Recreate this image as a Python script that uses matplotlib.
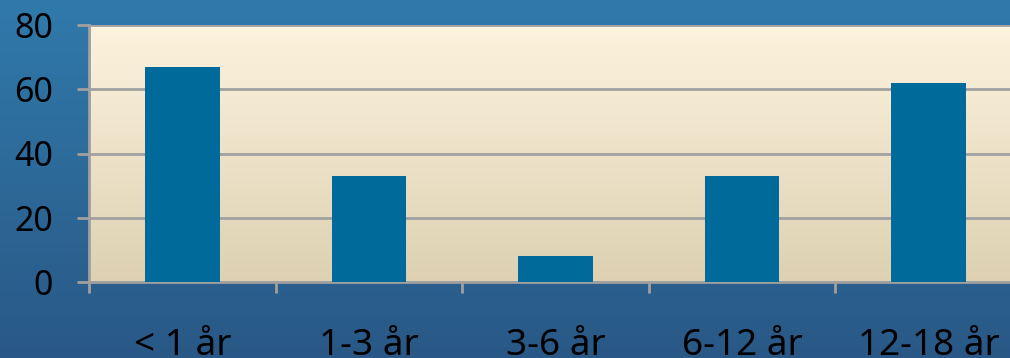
import numpy as np
import matplotlib.pyplot as plt

categories = ["< 1 år", "1-3 år", "3-6 år", "6-12 år", "12-18 år"]
values = [67, 33, 8, 33, 62]
yticks = [0, 20, 40, 60, 80]

plt.rcParams['font.family'] = ['Noto Sans', 'DejaVu Sans']

fig = plt.figure(figsize=(10.1, 3.58), dpi=100)

# blue gradient behind everything
bg = fig.add_axes([0, 0, 1, 1], zorder=-10)
top_c = np.array([48, 122, 171]) / 255
bot_c = np.array([41, 88, 134]) / 255
t = np.linspace(0, 1, 256)[:, None]
grad = top_c * (1 - t)[..., None] + bot_c * t[..., None]
bg.imshow(grad, aspect="auto", extent=[0, 1, 0, 1])
bg.axis("off")

ax = fig.add_axes([89 / 1010, 76 / 358, 933 / 1010, 257 / 358])
ax.set_xlim(-0.5, len(categories) - 0.5)
ax.set_ylim(0, 80)

# cream plot area gradient
ptop = np.array([253, 243, 222]) / 255
pbot = np.array([221, 209, 178]) / 255
pg = ptop * (1 - t)[..., None] + pbot * t[..., None]
ax.imshow(pg, aspect="auto", extent=[-0.5, len(categories) - 0.5, 0, 80], zorder=0)

ax.bar(range(len(categories)), values, width=0.4, color="#006A9A", zorder=3)

ax.set_yticks(yticks)
ax.grid(axis="y", color="#A0A0A0", linewidth=2, zorder=1)
ax.set_axisbelow(False)

ax.set_xticks(range(len(categories)))
ax.set_xticklabels(categories)
ax.set_xticks(np.arange(-0.5, len(categories) - 0.5, 1), minor=True)
ax.tick_params(axis="x", which="major", length=0, pad=33, labelsize=26.5, labelcolor="black")
ax.tick_params(axis="x", which="minor", length=8, width=2, color="#A0A0A0", direction="out")
ax.tick_params(axis="y", length=9, width=2, color="#A0A0A0", labelsize=24.5, pad=17)

for s in ["top", "right"]:
    ax.spines[s].set_visible(False)
for s in ["left", "bottom"]:
    ax.spines[s].set_color("#A0A0A0")
    ax.spines[s].set_linewidth(2)
ax.spines["left"].set_zorder(4)

fig.savefig("out.png", dpi=100)
